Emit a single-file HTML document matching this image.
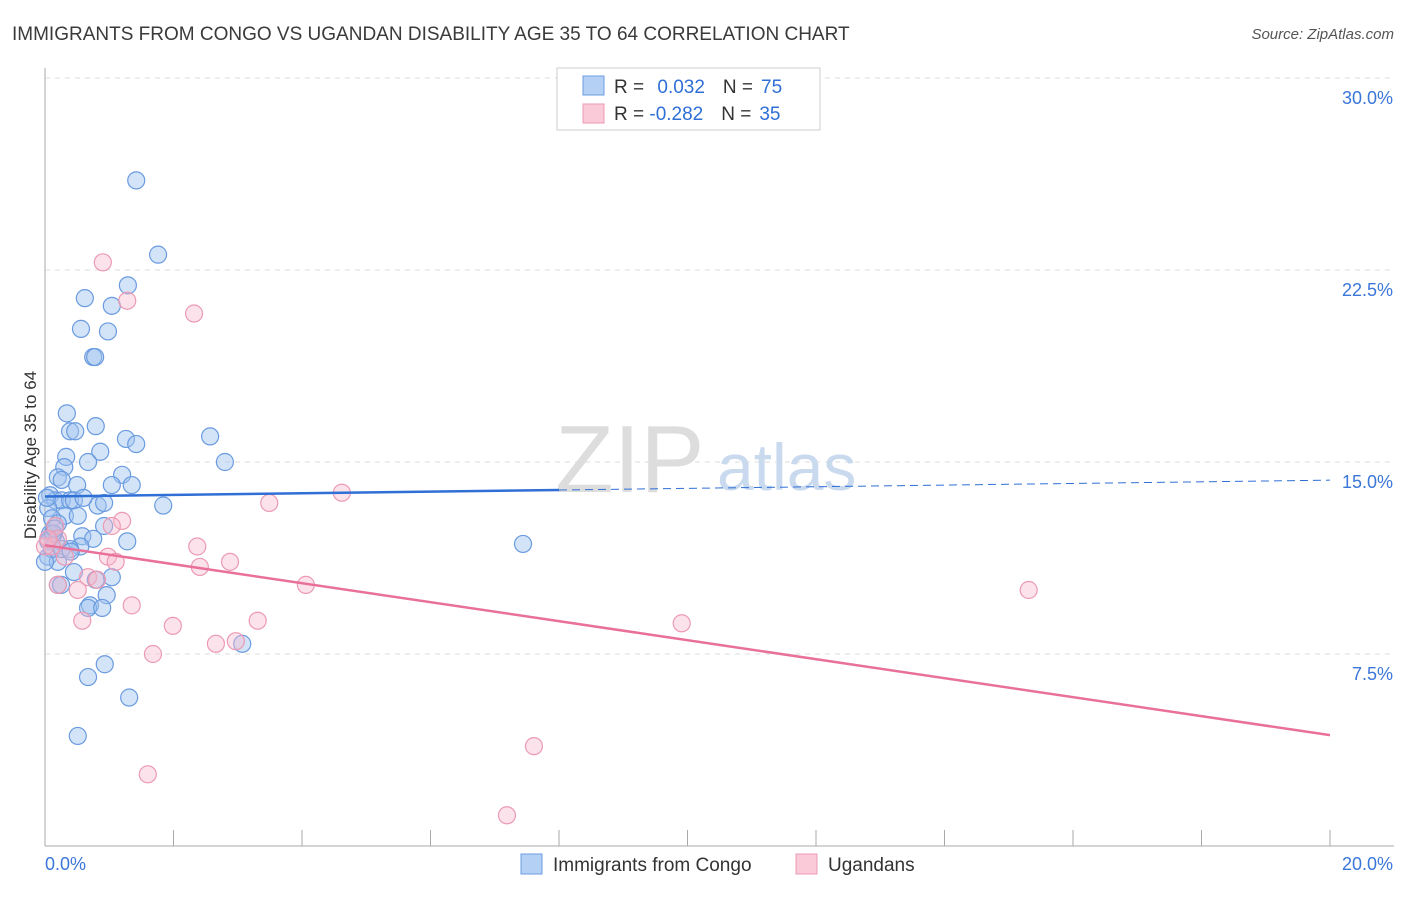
<!DOCTYPE html>
<html><head><meta charset="utf-8"><style>
body{margin:0;background:#fff;font-family:"Liberation Sans",sans-serif;}
svg text{font-family:"Liberation Sans",sans-serif;}
</style></head><body>
<svg width="1406" height="892">
<text x="12" y="40" font-size="19" fill="#3a3a3a">IMMIGRANTS FROM CONGO VS UGANDAN DISABILITY AGE 35 TO 64 CORRELATION CHART</text>
<text x="1394" y="39" font-size="15" fill="#555" font-style="italic" text-anchor="end">Source: ZipAtlas.com</text>
<g id="grid"></g>
<text x="555" y="492" font-size="96" fill="#ddd" font-family="Liberation Serif">ZIP</text>
<text x="717" y="490" font-size="66" fill="#c9d9ee">atlas</text>
<g id="axes"></g>
<g id="pts"></g>
<g id="trends"></g>
<text x="36" y="455" font-size="17" fill="#333" text-anchor="middle" transform="rotate(-90 36 455)">Disability Age 35 to 64</text>
<g>
<rect x="557" y="68" width="263" height="62" fill="#fff" stroke="#ccc"/>
<rect x="583" y="76" width="21" height="19" fill="#b5d0f5" stroke="#6a9be0"/>
<rect x="583" y="104" width="21" height="19" fill="#fbcad8" stroke="#ec9ab3"/>
<text x="614" y="93" font-size="19" fill="#333">R = <tspan fill="#2f6fd6" dx="8">0.032</tspan><tspan fill="#333" dx="18">N =</tspan><tspan fill="#2f6fd6" dx="8">75</tspan></text>
<text x="614" y="120" font-size="19" fill="#333">R = <tspan fill="#2f6fd6">-0.282</tspan><tspan fill="#333" dx="18">N =</tspan><tspan fill="#2f6fd6" dx="8">35</tspan></text>
</g>
<g>
<rect x="521" y="854" width="21" height="20" fill="#b5d0f5" stroke="#6a9be0"/>
<text x="553" y="871" font-size="19" fill="#333">Immigrants from Congo</text>
<rect x="796" y="854" width="21" height="20" fill="#fbcad8" stroke="#ec9ab3"/>
<text x="828" y="871" font-size="19" fill="#333">Ugandans</text>
</g>
</svg>
<script>
const xTicks=[0,20];
const yTicks=[7.5,15,22.5,30];
const blueX=[1.42,1.76,1.29,0.62,1.04,0.56,0.98,0.75,0.78,0.34,0.79,0.39,0.47,1.26,1.42,2.57,0.86,0.33,0.67,0.30,2.80,1.20,0.20,0.26,0.50,1.04,1.35,0.08,0.16,0.26,0.39,0.45,0.82,0.92,1.84,0.05,0.31,0.51,0.11,0.20,0.92,0.08,0.14,0.58,0.17,0.75,0.55,1.28,7.44,0.39,0.05,0.20,0.45,1.04,0.79,0.20,0.96,0.70,0.67,0.89,3.07,0.93,0.67,1.31,0.51,0.05,0.11,0.26,0.0,0.03,0.12,0.40,0.15,0.60,0.25];
const blueY=[26.0,23.1,21.9,21.4,21.1,20.2,20.1,19.1,19.1,16.9,16.4,16.2,16.2,15.9,15.7,16.0,15.4,15.2,15.0,14.8,15.0,14.5,14.4,14.3,14.1,14.1,14.1,13.7,13.5,13.5,13.5,13.5,13.3,13.4,13.3,13.2,12.9,12.9,12.8,12.6,12.5,12.2,12.2,12.1,11.9,12.0,11.7,11.9,11.8,11.6,11.3,11.1,10.7,10.5,10.4,10.2,9.8,9.4,9.3,9.3,7.9,7.1,6.6,5.8,4.3,11.9,11.6,11.6,11.1,13.6,12.2,11.5,12.4,13.6,10.2];
const pinkX=[0.90,1.28,2.32,3.49,4.62,0.16,1.20,1.04,0.20,0.11,2.37,2.88,0.31,0.98,1.10,2.41,4.06,0.67,0.20,0.81,0.51,1.35,0.58,1.99,3.31,2.66,2.97,1.68,9.91,15.31,7.61,1.60,7.19,0.0,0.05];
const pinkY=[22.8,21.3,20.8,13.4,13.8,12.5,12.7,12.5,12.0,11.7,11.7,11.1,11.3,11.3,11.1,10.9,10.2,10.5,10.2,10.4,10.0,9.4,8.8,8.6,8.8,7.9,8.0,7.5,8.7,10.0,3.9,2.8,1.2,11.7,12.0];
const blueTrend=[13.65,0.032];
const pinkTrend=[11.75,-0.371];
const X0=45,X1=1330,Y0=846,PPY=192/7.5;
const sx=v=>X0+(X1-X0)*v/20, sy=v=>Y0-v*PPY;
const NS='http://www.w3.org/2000/svg';
function mk(t,a,p){const e=document.createElementNS(NS,t);for(const k in a)e.setAttribute(k,a[k]);p.appendChild(e);return e;}
const grid=document.getElementById('grid'),axes=document.getElementById('axes');
yTicks.forEach(t=>{
 const l=mk('line',{x1:X0,x2:1394,y1:sy(t),y2:sy(t),stroke:'#ddd','stroke-dasharray':'5,5'},grid);
 
 
 const tx=mk('text',{x:1393,y:sy(t)+26,'font-size':18,fill:'#3b76d9','text-anchor':'end'},axes);
 tx.textContent=t.toFixed(1)+'%';
 
 
});
const ax=mk('line',{x1:X0,x2:X0,y1:68,y2:846,stroke:'#aaa'},axes);


const bx=mk('line',{x1:X0,x2:1394,y1:846,y2:846,stroke:'#aaa'},axes);


for(let i=0;i<=10;i++){const tk=mk('line',{x1:sx(i*2),x2:sx(i*2),y1:830,y2:846,stroke:'#aaa'},axes);
 
 }
xTicks.forEach((t,i)=>{const tx=mk('text',{x:i?1393:45,y:870,'font-size':18,fill:'#3b76d9','text-anchor':i?'end':'start'},axes);
 tx.textContent=t.toFixed(1)+'%';
 
 });
const pts=document.getElementById('pts');
blueX.forEach((x,i)=>{const c=mk('circle',{cx:sx(x),cy:sy(blueY[i]),r:8.5,fill:'rgba(160,196,240,0.45)',stroke:'#6a9be0','stroke-width':1.2},pts);
 
 });
pinkX.forEach((x,i)=>{const c=mk('circle',{cx:sx(x),cy:sy(pinkY[i]),r:8.5,fill:'rgba(248,186,205,0.4)',stroke:'#ec9ab3','stroke-width':1.2},pts);
 
 });
const tr=document.getElementById('trends');
const bt=x=>blueTrend[0]+blueTrend[1]*x, pt=x=>pinkTrend[0]+pinkTrend[1]*x;
const l1=mk('line',{x1:sx(0),y1:sy(bt(0)),x2:sx(8),y2:sy(bt(8)),stroke:'#2f6fd6','stroke-width':2.5},tr);


const l2=mk('line',{x1:sx(8),y1:sy(bt(8)),x2:sx(20),y2:sy(bt(20)),stroke:'#2f6fd6','stroke-width':1,'stroke-dasharray':'8,5'},tr);


const l3=mk('line',{x1:sx(0),y1:sy(pt(0)),x2:sx(20),y2:sy(pt(20)),stroke:'#e8709a','stroke-width':2.5},tr);


</script>
</body></html>
